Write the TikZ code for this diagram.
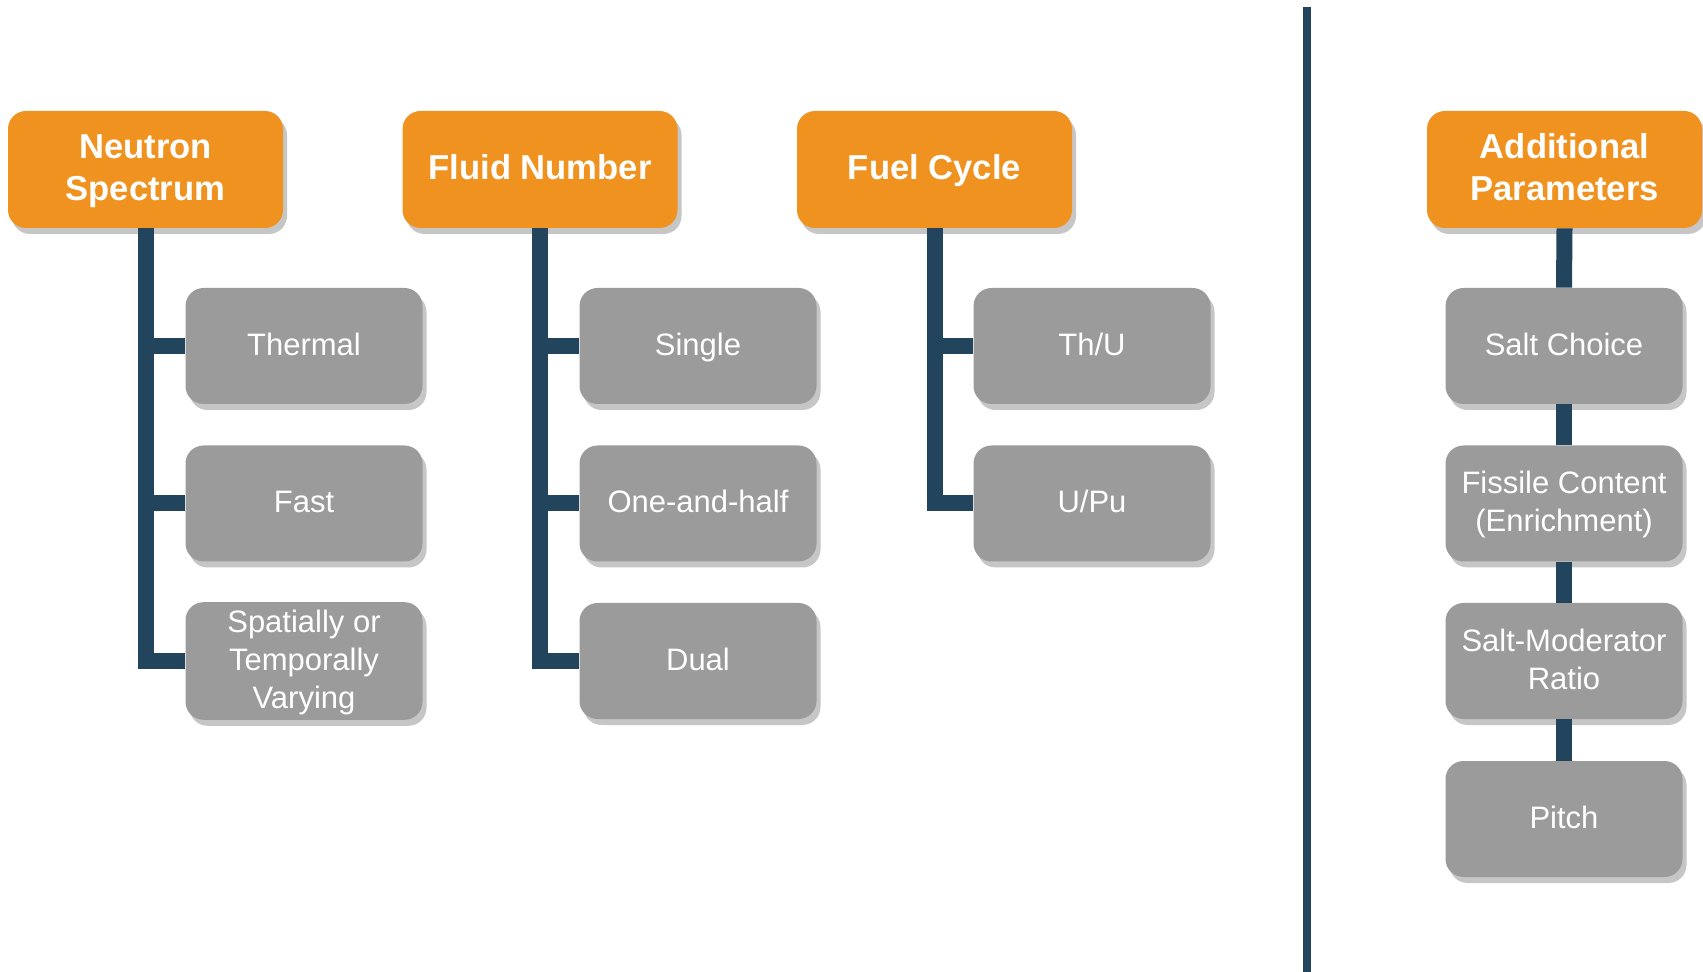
\documentclass[tikz,border=0pt]{standalone}
\usepackage{fontspec}
\setmainfont{Liberation Sans}
\usetikzlibrary{shadows}

\definecolor{catorange}{HTML}{F0921F}
\definecolor{optgray}{HTML}{9B9B9B}
\definecolor{treeblue}{HTML}{23445D}
\definecolor{shadegray}{HTML}{C6C6C6}

% strut a little taller above the baseline, so labels sit lower in the box
\newcommand\labelstrut{\rule[-0.3\baselineskip]{0pt}{\dimexpr\baselineskip+1.8pt\relax}}

\tikzset{
  catbox/.style={rectangle, rounded corners=9pt, fill=catorange, text=white,
    minimum width=137.5pt, minimum height=58.5pt, inner sep=0pt, align=center,
    font=\fontsize{17.3}{21}\selectfont\bfseries,
    execute at begin node=\labelstrut, execute at end node=\labelstrut,
    drop shadow={shadow xshift=2pt, shadow yshift=-3pt, fill=shadegray, opacity=1}},
  optbox/.style={rectangle, rounded corners=9pt, fill=optgray, text=white,
    minimum width=118.5pt, minimum height=58pt, inner sep=0pt, align=center,
    font=\fontsize{15.5}{19}\selectfont,
    execute at begin node=\labelstrut, execute at end node=\labelstrut,
    drop shadow={shadow xshift=2pt, shadow yshift=-3pt, fill=shadegray, opacity=1}},
  tree/.style={draw=treeblue, line width=8pt}
}

\begin{document}
\begin{tikzpicture}[x=0.5pt, y=-0.5pt]
   \useasboundingbox (0,0) rectangle (1703,972);

   % categories
   \node[catbox] (ns) at (145.5,169.5)  {\labelstrut Neutron\\Spectrum};
   \node[catbox] (fn) at (540,169.5)    {Fluid Number};
   \node[catbox] (fc) at (934.5,169.5)  {Fuel Cycle};
   \node[catbox] (ap) at (1564.5,169.5) {\labelstrut Additional\\Parameters};

   % options
   \node[optbox] (th)  at (304,346)   {Thermal};
   \node[optbox] (fa)  at (304,503.5) {Fast};
   \node[optbox] (sv)  at (304,661)   {\labelstrut Spatially or\\Temporally\\Varying};
   \node[optbox] (si)  at (698,346)   {Single};
   \node[optbox] (oh)  at (698,503.5) {One-and-half};
   \node[optbox] (du)  at (698,661)   {Dual};
   \node[optbox] (thu) at (1092,346)   {Th/U};
   \node[optbox] (upu) at (1092,503.5) {U/Pu};
   \node[optbox] (sc)  at (1564,346)   {Salt Choice};
   \node[optbox] (fi)  at (1564,503.5) {\labelstrut Fissile Content\\(Enrichment)};
   \node[optbox] (sm)  at (1564,661)   {\labelstrut Salt-Moderator\\Ratio};
   \node[optbox] (pi)  at (1564,819)   {Pitch};

   % trees
   \draw[tree] (ns.south) |- (sv.west);
   \draw[tree] (ns.south) |- (th.west);
   \draw[tree] (ns.south) |- (fa.west);
   \draw[tree] (fn.south) |- (du.west);
   \draw[tree] (fn.south) |- (si.west);
   \draw[tree] (fn.south) |- (oh.west);
   \draw[tree] (fc.south) |- (upu.west);
   \draw[tree] (fc.south) |- (thu.west);
   \draw[tree] (ap.south) -- (sc.north);
   \draw[tree] (sc.south) -- (fi.north);
   \draw[tree] (fi.south) -- (sm.north);
   \draw[tree] (sm.south) -- (pi.north);

   % divider
   \draw[treeblue, line width=4pt] (1307,7) -- (1307,972);
\end{tikzpicture}
\end{document}
